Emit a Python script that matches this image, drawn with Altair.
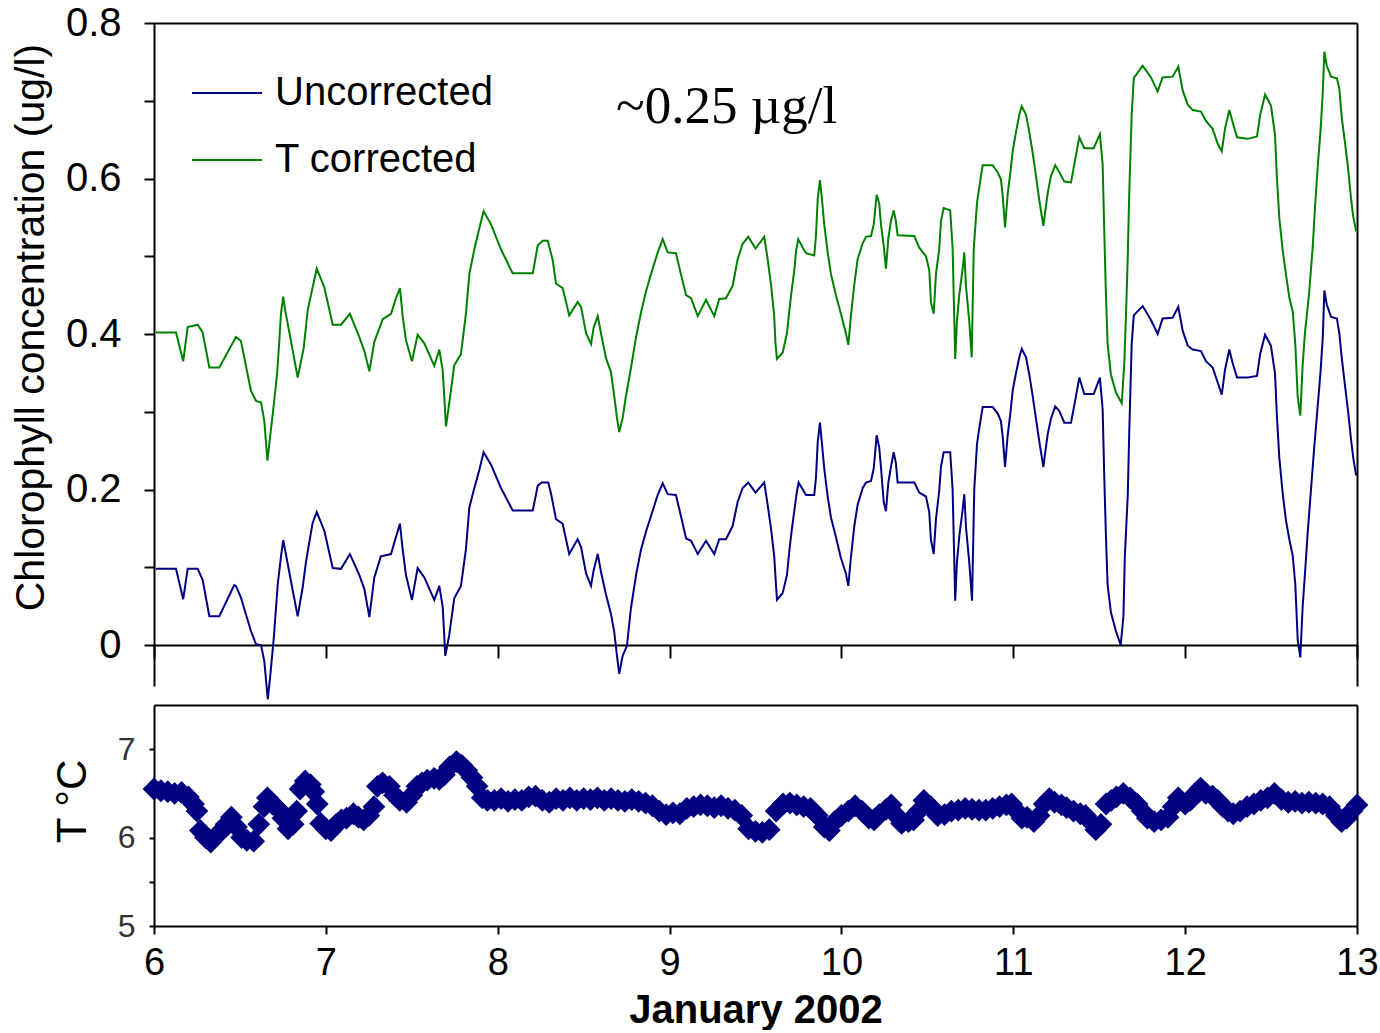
import altair as alt
import pandas as pd

# ---------------- data ----------------
series_names = ["Uncorrected", "T corrected"]
series_colors = ["#000080", "#008000"]

corr_day = [6.010, 6.128, 6.170, 6.196, 6.254, 6.283, 6.322, 6.380, 6.477, 6.506,
            6.564, 6.594, 6.623, 6.642, 6.660, 6.677, 6.691, 6.716, 6.729, 6.739,
            6.752, 6.762, 6.797, 6.836, 6.871, 6.894, 6.923, 6.947, 6.991, 7.040,
            7.088, 7.140, 7.195, 7.224, 7.253, 7.282, 7.331, 7.379, 7.408, 7.431,
            7.447, 7.466, 7.501, 7.534, 7.573, 7.631, 7.660, 7.680, 7.699, 7.718,
            7.747, 7.786, 7.815, 7.835, 7.864, 7.893, 7.918, 7.961, 8.019, 8.087,
            8.204, 8.233, 8.262, 8.291, 8.320, 8.339, 8.378, 8.416, 8.465, 8.485,
            8.514, 8.543, 8.558, 8.582, 8.601, 8.630, 8.659, 8.678, 8.694, 8.707,
            8.727, 8.746, 8.775, 8.805, 8.834, 8.863, 8.892, 8.931, 8.960, 8.989,
            9.037, 9.066, 9.096, 9.125, 9.164, 9.212, 9.260, 9.289, 9.328, 9.367,
            9.396, 9.425, 9.458, 9.500, 9.551, 9.571, 9.590, 9.609, 9.616, 9.625,
            9.658, 9.683, 9.697, 9.711, 9.726, 9.736, 9.749, 9.775, 9.794, 9.842,
            9.852, 9.862, 9.875, 9.885, 9.900, 9.920, 9.939, 9.968, 9.997, 10.026,
            10.040, 10.055, 10.075, 10.094, 10.124, 10.143, 10.172, 10.188, 10.205, 10.220,
            10.230, 10.246, 10.259, 10.273, 10.288, 10.304, 10.317, 10.327, 10.424, 10.453,
            10.492, 10.511, 10.521, 10.537, 10.550, 10.569, 10.579, 10.595, 10.633, 10.647,
            10.657, 10.662, 10.672, 10.686, 10.706, 10.715, 10.725, 10.744, 10.758, 10.770,
            10.789, 10.802, 10.822, 10.880, 10.909, 10.928, 10.938, 10.952, 10.967, 10.983,
            10.997, 11.016, 11.035, 11.049, 11.074, 11.093, 11.113, 11.132, 11.152, 11.175,
            11.200, 11.219, 11.244, 11.268, 11.297, 11.336, 11.359, 11.384, 11.413, 11.468,
            11.504, 11.520, 11.529, 11.539, 11.549, 11.568, 11.597, 11.631, 11.646, 11.656,
            11.666, 11.675, 11.689, 11.701, 11.753, 11.801, 11.840, 11.869, 11.927, 11.960,
            11.986, 12.015, 12.044, 12.092, 12.121, 12.160, 12.189, 12.213, 12.232, 12.257,
            12.277, 12.302, 12.364, 12.418, 12.437, 12.465, 12.499, 12.523, 12.534, 12.548,
            12.568, 12.587, 12.606, 12.626, 12.641, 12.655, 12.670, 12.684, 12.697, 12.722,
            12.742, 12.756, 12.772, 12.787, 12.801, 12.810, 12.824, 12.849, 12.883, 12.897,
            12.911, 12.932, 12.949, 12.965, 12.978, 12.995]
corr_val = [0.402, 0.402, 0.365, 0.409, 0.412, 0.402, 0.357, 0.357, 0.396, 0.391,
            0.327, 0.314, 0.312, 0.288, 0.237, 0.271, 0.297, 0.348, 0.391, 0.427,
            0.448, 0.432, 0.391, 0.344, 0.382, 0.430, 0.460, 0.484, 0.460, 0.412,
            0.412, 0.426, 0.396, 0.378, 0.352, 0.390, 0.419, 0.426, 0.446, 0.459,
            0.423, 0.392, 0.365, 0.399, 0.388, 0.359, 0.380, 0.353, 0.281, 0.311,
            0.360, 0.374, 0.426, 0.477, 0.509, 0.536, 0.558, 0.541, 0.509, 0.478,
            0.478, 0.514, 0.520, 0.520, 0.495, 0.465, 0.459, 0.424, 0.441, 0.435,
            0.401, 0.387, 0.408, 0.423, 0.401, 0.369, 0.351, 0.320, 0.292, 0.274,
            0.292, 0.320, 0.356, 0.396, 0.428, 0.455, 0.477, 0.505, 0.522, 0.505,
            0.504, 0.477, 0.450, 0.446, 0.423, 0.444, 0.423, 0.445, 0.446, 0.462,
            0.496, 0.516, 0.525, 0.510, 0.525, 0.496, 0.464, 0.423, 0.388, 0.368,
            0.376, 0.401, 0.430, 0.457, 0.482, 0.507, 0.522, 0.511, 0.504, 0.501,
            0.527, 0.574, 0.598, 0.577, 0.541, 0.505, 0.477, 0.450, 0.426, 0.401,
            0.386, 0.423, 0.464, 0.496, 0.517, 0.525, 0.526, 0.541, 0.579, 0.568,
            0.541, 0.514, 0.484, 0.523, 0.545, 0.559, 0.545, 0.527, 0.526, 0.511,
            0.500, 0.482, 0.441, 0.426, 0.477, 0.509, 0.545, 0.562, 0.559, 0.510,
            0.416, 0.368, 0.416, 0.451, 0.485, 0.505, 0.461, 0.416, 0.370, 0.510,
            0.569, 0.589, 0.617, 0.617, 0.608, 0.599, 0.579, 0.537, 0.579, 0.608,
            0.636, 0.660, 0.682, 0.693, 0.682, 0.660, 0.633, 0.603, 0.571, 0.539,
            0.581, 0.603, 0.617, 0.608, 0.596, 0.595, 0.623, 0.653, 0.639, 0.639,
            0.657, 0.618, 0.535, 0.451, 0.387, 0.348, 0.325, 0.311, 0.362, 0.426,
            0.498, 0.584, 0.682, 0.729, 0.745, 0.730, 0.712, 0.730, 0.731, 0.744,
            0.713, 0.695, 0.688, 0.686, 0.674, 0.664, 0.645, 0.635, 0.664, 0.688,
            0.672, 0.653, 0.651, 0.654, 0.682, 0.708, 0.694, 0.656, 0.601, 0.549,
            0.507, 0.476, 0.447, 0.429, 0.387, 0.319, 0.295, 0.361, 0.401, 0.454,
            0.511, 0.564, 0.617, 0.659, 0.711, 0.763, 0.745, 0.731, 0.729, 0.716,
            0.679, 0.643, 0.611, 0.575, 0.551, 0.532]

unc_day = [6.010, 6.128, 6.170, 6.196, 6.254, 6.283, 6.322, 6.380, 6.467, 6.477,
           6.506, 6.564, 6.594, 6.623, 6.642, 6.662, 6.677, 6.697, 6.720, 6.739,
           6.752, 6.764, 6.797, 6.836, 6.865, 6.885, 6.923, 6.947, 6.991, 7.040,
           7.088, 7.140, 7.195, 7.224, 7.253, 7.282, 7.320, 7.379, 7.408, 7.431,
           7.447, 7.466, 7.501, 7.534, 7.573, 7.631, 7.660, 7.680, 7.695, 7.718,
           7.747, 7.786, 7.815, 7.835, 7.864, 7.893, 7.918, 7.961, 8.019, 8.087,
           8.204, 8.233, 8.256, 8.294, 8.310, 8.339, 8.378, 8.416, 8.465, 8.485,
           8.514, 8.543, 8.558, 8.582, 8.601, 8.630, 8.659, 8.678, 8.694, 8.707,
           8.727, 8.752, 8.775, 8.805, 8.834, 8.863, 8.892, 8.931, 8.960, 8.989,
           9.037, 9.066, 9.096, 9.125, 9.164, 9.212, 9.260, 9.289, 9.328, 9.367,
           9.396, 9.425, 9.458, 9.500, 9.551, 9.571, 9.590, 9.609, 9.619, 9.625,
           9.658, 9.683, 9.697, 9.711, 9.726, 9.740, 9.751, 9.775, 9.794, 9.842,
           9.852, 9.862, 9.875, 9.885, 9.900, 9.920, 9.939, 9.968, 9.997, 10.026,
           10.040, 10.055, 10.075, 10.094, 10.124, 10.143, 10.172, 10.188, 10.205, 10.220,
           10.230, 10.246, 10.259, 10.273, 10.288, 10.304, 10.317, 10.327, 10.424, 10.453,
           10.492, 10.511, 10.521, 10.537, 10.550, 10.569, 10.579, 10.595, 10.633, 10.647,
           10.657, 10.662, 10.672, 10.686, 10.706, 10.715, 10.725, 10.744, 10.760, 10.773,
           10.789, 10.802, 10.822, 10.880, 10.909, 10.928, 10.938, 10.952, 10.967, 10.983,
           10.997, 11.016, 11.035, 11.049, 11.074, 11.093, 11.113, 11.132, 11.152, 11.175,
           11.200, 11.219, 11.244, 11.268, 11.297, 11.336, 11.359, 11.384, 11.413, 11.468,
           11.504, 11.520, 11.529, 11.539, 11.549, 11.568, 11.597, 11.625, 11.641, 11.649,
           11.666, 11.675, 11.689, 11.701, 11.753, 11.801, 11.840, 11.869, 11.927, 11.960,
           11.986, 12.015, 12.044, 12.092, 12.121, 12.160, 12.189, 12.213, 12.232, 12.257,
           12.277, 12.302, 12.364, 12.418, 12.437, 12.465, 12.499, 12.523, 12.534, 12.548,
           12.568, 12.587, 12.606, 12.626, 12.641, 12.655, 12.670, 12.684, 12.697, 12.713,
           12.732, 12.751, 12.772, 12.787, 12.801, 12.810, 12.824, 12.849, 12.883, 12.897,
           12.911, 12.932, 12.949, 12.965, 12.978, 12.995]
unc_val = [0.098, 0.098, 0.059, 0.098, 0.098, 0.084, 0.037, 0.037, 0.077, 0.076,
           0.061, 0.018, 0.001, 0.000, -0.021, -0.070, -0.038, 0.009, 0.078, 0.114,
           0.135, 0.121, 0.082, 0.037, 0.074, 0.108, 0.157, 0.171, 0.147, 0.099,
           0.098, 0.117, 0.090, 0.072, 0.036, 0.087, 0.114, 0.117, 0.139, 0.156,
           0.123, 0.090, 0.058, 0.099, 0.087, 0.058, 0.076, 0.049, -0.014, 0.013,
           0.060, 0.076, 0.123, 0.177, 0.202, 0.225, 0.248, 0.232, 0.202, 0.173,
           0.173, 0.205, 0.209, 0.209, 0.195, 0.162, 0.156, 0.117, 0.136, 0.126,
           0.092, 0.076, 0.096, 0.117, 0.094, 0.065, 0.040, 0.017, -0.014, -0.037,
           -0.014, -0.001, 0.047, 0.090, 0.123, 0.146, 0.166, 0.193, 0.208, 0.194,
           0.193, 0.166, 0.137, 0.134, 0.117, 0.134, 0.117, 0.136, 0.136, 0.153,
           0.184, 0.202, 0.209, 0.196, 0.209, 0.180, 0.150, 0.114, 0.078, 0.058,
           0.067, 0.090, 0.121, 0.148, 0.173, 0.196, 0.209, 0.200, 0.193, 0.193,
           0.216, 0.261, 0.286, 0.263, 0.227, 0.191, 0.164, 0.139, 0.112, 0.092,
           0.076, 0.112, 0.153, 0.180, 0.202, 0.209, 0.211, 0.227, 0.270, 0.254,
           0.229, 0.184, 0.172, 0.209, 0.229, 0.248, 0.234, 0.209, 0.209, 0.196,
           0.191, 0.171, 0.135, 0.117, 0.162, 0.198, 0.229, 0.248, 0.248, 0.200,
           0.106, 0.057, 0.106, 0.140, 0.175, 0.194, 0.151, 0.106, 0.057, 0.200,
           0.259, 0.279, 0.306, 0.306, 0.298, 0.288, 0.269, 0.229, 0.269, 0.298,
           0.328, 0.350, 0.370, 0.381, 0.370, 0.348, 0.320, 0.291, 0.261, 0.229,
           0.271, 0.291, 0.307, 0.301, 0.286, 0.286, 0.313, 0.344, 0.323, 0.323,
           0.344, 0.303, 0.220, 0.141, 0.077, 0.042, 0.018, 0.000, 0.037, 0.114,
           0.192, 0.276, 0.387, 0.424, 0.436, 0.418, 0.400, 0.420, 0.421, 0.435,
           0.404, 0.385, 0.380, 0.378, 0.365, 0.357, 0.338, 0.322, 0.354, 0.380,
           0.362, 0.344, 0.344, 0.346, 0.375, 0.399, 0.385, 0.349, 0.294, 0.241,
           0.194, 0.160, 0.136, 0.115, 0.078, 0.007, -0.016, 0.050, 0.091, 0.144,
           0.199, 0.254, 0.309, 0.349, 0.396, 0.456, 0.438, 0.422, 0.420, 0.401,
           0.370, 0.330, 0.299, 0.265, 0.241, 0.218]

temp_day = [6.00, 6.04, 6.08, 6.12, 6.16, 6.20, 6.23, 6.25, 6.27, 6.30,
            6.33, 6.36, 6.39, 6.42, 6.45, 6.48, 6.51, 6.54, 6.58, 6.61,
            6.64, 6.66, 6.69, 6.72, 6.75, 6.78, 6.81, 6.83, 6.85, 6.88,
            6.91, 6.93, 6.95, 6.97, 7.00, 7.03, 7.06, 7.09, 7.12, 7.16,
            7.19, 7.22, 7.25, 7.28, 7.30, 7.33, 7.37, 7.40, 7.43, 7.47,
            7.50, 7.53, 7.56, 7.59, 7.63, 7.66, 7.69, 7.72, 7.76, 7.79,
            7.82, 7.85, 7.88, 7.91, 7.94, 7.98, 8.02, 8.06, 8.10, 8.14,
            8.18, 8.22, 8.26, 8.30, 8.34, 8.38, 8.42, 8.46, 8.50, 8.54,
            8.58, 8.62, 8.66, 8.70, 8.74, 8.78, 8.82, 8.86, 8.90, 8.94,
            8.98, 9.02, 9.06, 9.10, 9.14, 9.18, 9.22, 9.26, 9.30, 9.34,
            9.38, 9.42, 9.46, 9.50, 9.54, 9.58, 9.62, 9.66, 9.70, 9.74,
            9.78, 9.82, 9.86, 9.90, 9.93, 9.96, 10.00, 10.04, 10.08, 10.12,
            10.16, 10.19, 10.22, 10.26, 10.29, 10.32, 10.35, 10.39, 10.42, 10.45,
            10.48, 10.52, 10.56, 10.60, 10.64, 10.68, 10.72, 10.76, 10.80, 10.84,
            10.88, 10.92, 10.96, 10.99, 11.02, 11.05, 11.08, 11.12, 11.15, 11.18,
            11.21, 11.24, 11.28, 11.31, 11.35, 11.39, 11.42, 11.45, 11.48, 11.51,
            11.54, 11.57, 11.60, 11.64, 11.68, 11.72, 11.75, 11.78, 11.82, 11.86,
            11.90, 11.93, 11.96, 12.00, 12.03, 12.06, 12.09, 12.12, 12.16, 12.19,
            12.22, 12.25, 12.28, 12.32, 12.36, 12.40, 12.44, 12.48, 12.52, 12.56,
            12.60, 12.64, 12.68, 12.72, 12.76, 12.80, 12.84, 12.88, 12.91, 12.94,
            12.97, 13.00]
temp_val = [6.55, 6.53, 6.52, 6.50, 6.51, 6.46, 6.38, 6.30, 6.08, 6.00,
            5.95, 6.02, 6.07, 6.15, 6.23, 6.12, 6.00, 5.97, 5.96, 6.15,
            6.35, 6.45, 6.38, 6.33, 6.22, 6.10, 6.15, 6.30, 6.55, 6.64,
            6.60, 6.52, 6.38, 6.16, 6.10, 6.08, 6.15, 6.20, 6.22, 6.27,
            6.23, 6.20, 6.25, 6.35, 6.58, 6.62, 6.58, 6.48, 6.42, 6.40,
            6.48, 6.58, 6.62, 6.65, 6.67, 6.66, 6.71, 6.80, 6.86, 6.82,
            6.76, 6.68, 6.58, 6.45, 6.42, 6.42, 6.44, 6.41, 6.43, 6.42,
            6.46, 6.47, 6.42, 6.40, 6.44, 6.42, 6.45, 6.42, 6.44, 6.43,
            6.45, 6.42, 6.44, 6.42, 6.41, 6.43, 6.41, 6.39, 6.36, 6.30,
            6.26, 6.28, 6.27, 6.33, 6.35, 6.37, 6.36, 6.34, 6.36, 6.33,
            6.31, 6.25, 6.10, 6.07, 6.06, 6.09, 6.30, 6.38, 6.39, 6.37,
            6.35, 6.33, 6.25, 6.12, 6.08, 6.18, 6.25, 6.30, 6.36, 6.30,
            6.22, 6.20, 6.26, 6.32, 6.37, 6.25, 6.16, 6.18, 6.20, 6.30,
            6.42, 6.35, 6.25, 6.26, 6.30, 6.31, 6.33, 6.32, 6.31, 6.31,
            6.33, 6.35, 6.37, 6.38, 6.30, 6.22, 6.23, 6.18, 6.25, 6.38,
            6.44, 6.40, 6.37, 6.34, 6.30, 6.27, 6.25, 6.18, 6.09, 6.15,
            6.38, 6.42, 6.46, 6.50, 6.45, 6.38, 6.30, 6.22, 6.18, 6.20,
            6.23, 6.35, 6.45, 6.38, 6.42, 6.50, 6.56, 6.50, 6.47, 6.42,
            6.35, 6.30, 6.27, 6.30, 6.35, 6.38, 6.42, 6.45, 6.50, 6.43,
            6.40, 6.41, 6.39, 6.40, 6.39, 6.38, 6.35, 6.25, 6.18, 6.22,
            6.30, 6.37]

x_ticks = [6, 7, 8, 9, 10, 11, 12, 13]
chl_ticks = [0, 0.1, 0.2, 0.3, 0.4, 0.5, 0.6, 0.7, 0.8]
temp_ticks = [5, 5.5, 6, 6.5, 7]
chl_domain = [-0.0527, 0.8]
temp_domain = [5, 7.5]
day_domain = [6, 13]

note_text = ["~0.25 \u00b5g/l"]
note_day = [8.688]
note_val = [0.671]

# ---------------- tables ----------------
lines_df = pd.concat([
    pd.DataFrame({"day": unc_day, "value": unc_val, "series": series_names[0]}),
    pd.DataFrame({"day": corr_day, "value": corr_val, "series": series_names[1]}),
], ignore_index=True)
temp_df = pd.DataFrame({"day": temp_day, "temp": temp_val})
note_df = pd.DataFrame({"text": note_text, "day": note_day, "value": note_val})

SANS = "Liberation Sans, Arial, sans-serif"

W = 1203
H_TOP = 663
H_BOT = 221

x_top = alt.Scale(domain=day_domain, nice=False, zero=False)
y_top = alt.Scale(domain=chl_domain, nice=False, zero=False)
x_bot = alt.Scale(domain=day_domain, nice=False, zero=False)
y_bot = alt.Scale(domain=temp_domain, nice=False, zero=False)

frame_axis = dict(labels=False, ticks=False, domainColor="black", domainWidth=2,
                  title=None, grid=False)

lines = alt.Chart(lines_df).mark_line(strokeWidth=2, clip=False).encode(
    x=alt.X("day:Q", scale=x_top,
            axis=alt.Axis(orient="bottom", offset=-41, values=x_ticks, labels=False,
                          tickSize=13, tickWidth=2, tickColor="black",
                          domainColor="black", domainWidth=2, title=None, grid=False)),
    y=alt.Y("value:Q", scale=y_top,
            axis=alt.Axis(orient="left", values=chl_ticks,
                          labelExpr="datum.value == 0 ? '0' : (round(datum.value*10) % 2 == 0 ? format(datum.value, '.1f') : '')",
                          labelFont=SANS, labelFontSize=40, labelColor="black",
                          labelPadding=23, tickSize=10, tickWidth=2, tickColor="black",
                          domainColor="black", domainWidth=2, grid=False,
                          title="Chlorophyll concentration (ug/l)",
                          titleFont=SANS, titleFontSize=41, titleFontWeight="normal",
                          titleColor="black", titleAngle=270, titleX=-123, titleY=304,
                          titleAlign="center", titleBaseline="middle")),
    color=alt.Color("series:N",
                    scale=alt.Scale(domain=series_names, range=series_colors),
                    legend=alt.Legend(title=None, orient="none", legendX=37, legendY=34,
                                      symbolType="stroke", symbolSize=4900,
                                      symbolStrokeWidth=2, labelFont=SANS,
                                      labelFontSize=40, labelColor="black",
                                      labelLimit=600, labelOffset=12,
                                      rowPadding=11, padding=0)),
)

frame_top = alt.Chart(lines_df).mark_point(opacity=0).encode(
    x=alt.X("day:Q", scale=x_top, axis=alt.Axis(orient="top", **frame_axis)),
    y=alt.Y("value:Q", scale=y_top, axis=alt.Axis(orient="right", **frame_axis)),
)

note = alt.Chart(note_df).mark_text(font="Liberation Serif, Times New Roman, serif",
                                    fontSize=53, align="left", baseline="alphabetic",
                                    color="black").encode(
    x=alt.X("day:Q", scale=x_top, axis=None),
    y=alt.Y("value:Q", scale=y_top, axis=None),
    text="text:N",
)

top = alt.layer(lines, frame_top, note).properties(width=W, height=H_TOP)

temp_pts = alt.Chart(temp_df).mark_point(shape="diamond", filled=True, size=520,
                                         color="#000080", opacity=1, strokeWidth=0,
                                         clip=False).encode(
    x=alt.X("day:Q", scale=x_bot,
            axis=alt.Axis(orient="bottom", values=x_ticks, format="d", labelFlush=False,
                          labelFont=SANS, labelFontSize=38, labelColor="black",
                          labelPadding=10, tickSize=8, tickWidth=2, tickColor="black",
                          domainColor="black", domainWidth=2, grid=False,
                          title="January 2002", titleFont=SANS, titleFontSize=40,
                          titleFontWeight="bold", titleColor="black", titlePadding=8)),
    y=alt.Y("temp:Q", scale=y_bot,
            axis=alt.Axis(orient="left", values=temp_ticks,
                          labelExpr="datum.value % 1 == 0 ? format(datum.value, 'd') : ''",
                          labelFont=SANS, labelFontSize=32, labelColor="#333333",
                          labelPadding=14, tickSize=5, tickWidth=2, tickColor="black",
                          domainColor="black", domainWidth=2, grid=False,
                          title="T \u00b0C", titleFont=SANS, titleFontSize=42,
                          titleFontWeight="normal", titleColor="black", titleAngle=270,
                          titleX=-82, titleY=96, titleAlign="center",
                          titleBaseline="middle")),
)

frame_bot = alt.Chart(temp_df).mark_point(opacity=0).encode(
    x=alt.X("day:Q", scale=x_bot, axis=alt.Axis(orient="top", **frame_axis)),
    y=alt.Y("temp:Q", scale=y_bot, axis=alt.Axis(orient="right", **frame_axis)),
)

bottom = alt.layer(temp_pts, frame_bot).properties(width=W, height=H_BOT)

chart = alt.vconcat(top, bottom, spacing=19, bounds="flush").properties(
    padding={"left": 9, "top": 3, "right": 0, "bottom": 0},
    background="white",
).configure_view(stroke=None)

chart.save("out.html", embed_options={"renderer": "svg", "actions": False})
